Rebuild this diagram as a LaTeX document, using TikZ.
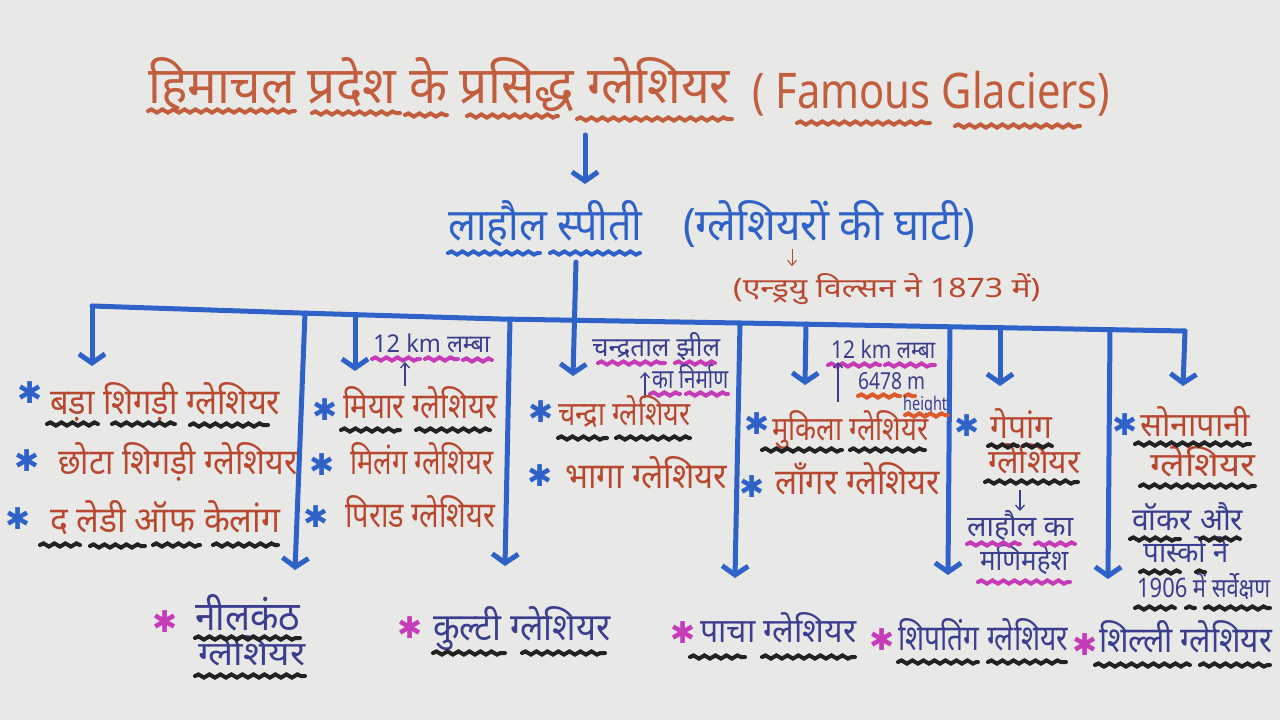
\documentclass[tikz,border=0pt]{standalone}
\usepackage{fontspec}
\usepackage{graphicx}
\usetikzlibrary{arrows.meta,decorations.pathmorphing}
\newfontfamily\dev[Script=Devanagari]{Noto Sans}
\newfontfamily\symf{DejaVu Sans}
\definecolor{paper}{HTML}{E8E8E6}
\definecolor{ttl}{HTML}{C25E3E}
\definecolor{myblue}{HTML}{2F62C8}
\definecolor{itemred}{HTML}{B8472F}
\definecolor{ink}{HTML}{3A3E8E}
\definecolor{mag}{HTML}{C63BB8}
\definecolor{ulblack}{HTML}{222222}
\definecolor{ulred}{HTML}{DC5A2C}
\newcommand\hw[3]{\resizebox{#1pt}{#2pt}{\dev\vphantom{शि}#3}}
\newcommand\wl[4]{\draw[ul,draw=#4] (#1,#3) -- (#2,#3);}
\newcommand\astr[4]{\node[astr,text=#4] (#1) at (#2,#3) {\symf ✱};}
\tikzset{
  bline/.style={draw=myblue, line width=5pt, line cap=round, line join=round},
  barrow/.style={bline, -{Straight Barb[length=9pt,width=26pt]}},
  tarrow/.style={draw=ink, line width=1.3pt, -{Straight Barb[length=5pt,width=9pt]}},
  ul/.style={decorate, decoration={snake, amplitude=1.6pt, segment length=11pt}, line width=4pt, line cap=round},
  txt/.style={anchor=base west, inner sep=0pt},
  astr/.style={inner sep=0pt, font=\fontsize{30}{30}\selectfont},
}
\begin{document}
\begin{tikzpicture}[x=1pt,y=-1pt]
\fill[paper] (0,0) rectangle (1280,720);
\useasboundingbox (0,0) rectangle (1280,720);

% ---- title
\node[txt,text=ttl] (t1) at (148,103) {\hw{582}{46}{हिमाचल प्रदेश के प्रसिद्ध ग्लेशियर}};
\node[txt,text=ttl] (t2) at (752,108) {\hw{358}{44}{( Famous Glaciers)}};
\wl{148}{295}{111}{ttl}\wl{312}{400}{113}{ttl}\wl{405}{447}{115}{ttl}
\wl{467}{558}{116}{ttl}\wl{577}{732}{119}{ttl}
\wl{797}{930}{123}{ttl}\wl{955}{1080}{126}{ttl}

% ---- lahaul spiti
\node[txt,text=myblue] (lh) at (448,240) {\hw{194}{40}{लाहौल स्पीती}};
\node[txt,text=myblue] (gh) at (683,240) {\hw{292}{40}{(ग्लेशियरों की घाटी)}};
\wl{448}{540}{253}{myblue}\wl{550}{640}{253}{myblue}
\node[txt,text=itemred] (aw) at (733,297) {\hw{307}{24}{(एन्ड्रयु विल्सन ने 1873 में)}};
\coordinate (gha) at (792,249);
\coordinate (ghb) at (792,266);
\draw[tarrow,draw=itemred,line width=1pt] (gha) -- (ghb);

% ---- arrows
\coordinate (ta) at (585,135);
\coordinate (tb) at (585,184);
\draw[barrow] (ta) -- (tb);

\coordinate (j0) at (92,306);
\coordinate (j1) at (305,313);
\coordinate (j2) at (355,315);
\coordinate (j3) at (510,319);
\coordinate (j4) at (575,320);
\coordinate (j5) at (740,323);
\coordinate (j6) at (806,324);
\coordinate (j7) at (950,327);
\coordinate (j8) at (1000,328);
\coordinate (j9) at (1110,330);
\coordinate (j10) at (1185,331);
\draw[bline] (j0) -- (300,313) -- (500,319) -- (j5) -- (j10);
\coordinate (lv) at (576,262);
\coordinate (e0) at (92,366);
\coordinate (e1) at (295,570);
\coordinate (e2) at (355,371);
\coordinate (e3) at (505,566);
\coordinate (e4) at (573,376);
\coordinate (e5) at (735,578);
\coordinate (e6) at (805,385);
\coordinate (e7) at (948,575);
\coordinate (e8) at (1000,386);
\coordinate (e9) at (1108,579);
\coordinate (e10) at (1183,386);
\draw[barrow] (lv) -- (e4);
\foreach \i in {0,1,2,3,5,6,7,8,9,10} {\draw[barrow] (j\i) -- (e\i);}

% ---- column 1
\astr{s1}{30}{393}{myblue}\astr{s2}{27}{461}{myblue}\astr{s3}{18}{519}{myblue}
\node[txt,text=itemred] (c1a) at (50,414) {\hw{230}{32}{बड़ा शिगड़ी ग्लेशियर}};
\node[txt,text=itemred] (c1b) at (58,474) {\hw{239}{32}{छोटा शिगड़ी ग्लेशियर}};
\node[txt,text=itemred] (c1c) at (50,532) {\hw{230}{32}{द लेडी ऑफ केलांग}};
\wl{47}{98}{424}{ulblack}\wl{112}{175}{424}{ulblack}\wl{190}{268}{425}{ulblack}
\wl{40}{80}{545}{ulblack}\wl{90}{145}{546}{ulblack}\wl{153}{200}{545}{ulblack}\wl{213}{278}{545}{ulblack}

% ---- column 2
\node[txt,text=ink] (k1) at (373,352) {\hw{117}{22}{12 km लम्बा}};
\wl{372}{420}{359}{mag}\wl{425}{458}{359}{mag}\wl{463}{492}{360}{mag}
\coordinate (k1a) at (405,386);
\coordinate (k1b) at (405,362);
\draw[tarrow] (k1a) -- (k1b);
\astr{s4}{325}{410}{myblue}\astr{s5}{322}{465}{myblue}\astr{s6}{316}{517}{myblue}
\node[txt,text=itemred] (c2a) at (343,418) {\hw{154}{32}{मियार ग्लेशियर}};
\node[txt,text=itemred] (c2b) at (350,474) {\hw{143}{32}{मिलंग ग्लेशियर}};
\node[txt,text=itemred] (c2c) at (345,527) {\hw{150}{32}{पिराड ग्लेशियर}};
\wl{341}{400}{430}{ulblack}\wl{416}{490}{430}{ulblack}

% ---- column 3
\node[txt,text=ink] (c3n1) at (592,356) {\hw{128}{24}{चन्द्रताल झील}};
\wl{598}{665}{363}{mag}\wl{675}{715}{363}{mag}
\node[txt,text=ink] (c3n2) at (652,388) {\hw{76}{24}{का निर्माण}};
\wl{650}{680}{394}{mag}\wl{686}{728}{394}{mag}
\coordinate (c3a) at (645,398);
\coordinate (c3b) at (645,372);
\draw[tarrow] (c3a) -- (c3b);
\astr{s7}{541}{412}{myblue}\astr{s8}{540}{476}{myblue}
\node[txt,text=itemred] (c3a1) at (558,425) {\hw{132}{30}{चन्द्रा ग्लेशियर}};
\node[txt,text=itemred] (c3b1) at (565,488) {\hw{162}{32}{भागा ग्लेशियर}};
\wl{558}{607}{438}{ulblack}\wl{616}{690}{438}{ulblack}

% ---- column 4
\node[txt,text=ink] (k2) at (831,358) {\hw{104}{22}{12 km लम्बा}};
\wl{828}{880}{365}{mag}\wl{885}{935}{365}{mag}
\coordinate (k2a) at (838,402);
\coordinate (k2b) at (838,362);
\draw[tarrow] (k2a) -- (k2b);
\node[txt,text=ink] (ht1) at (858,389) {\hw{67}{21}{6478 m}};
\wl{858}{900}{396}{ulred}\wl{905}{915}{396}{ulred}
\node[txt,text=ink] (ht2) at (903,410) {\hw{44}{17}{height}};
\wl{905}{948}{415}{ulred}
\astr{s9}{757}{424}{myblue}\astr{s10}{752}{487}{myblue}
\node[txt,text=itemred] (c4a) at (772,440) {\hw{156}{30}{मुकिला ग्लेशियर}};
\node[txt,text=itemred] (c4b) at (775,494) {\hw{165}{32}{लॉंगर ग्लेशियर}};
\wl{762}{842}{450}{ulblack}\wl{850}{925}{450}{ulblack}

% ---- column 5
\astr{s11}{967}{426}{myblue}
\node[txt,text=itemred] (c5a) at (990,438) {\hw{62}{30}{गेपांग}};
\node[txt,text=itemred] (c5b) at (988,473) {\hw{92}{30}{ग्लेशियर}};
\wl{988}{1018}{446}{ulblack}\wl{1023}{1052}{446}{ulblack}
\wl{985}{1078}{482}{ulblack}
\coordinate (c5x) at (1020,490);
\coordinate (c5y) at (1020,511);
\draw[tarrow] (c5x) -- (c5y);
\node[txt,text=ink] (c5c) at (967,536) {\hw{106}{26}{लाहौल का}};
\node[txt,text=ink] (c5d) at (980,570) {\hw{88}{26}{मणिमहेश}};
\wl{967}{1020}{544}{mag}\wl{1035}{1075}{544}{mag}
\wl{978}{1070}{582}{mag}

% ---- column 6
\astr{s12}{1125}{425}{myblue}
\node[txt,text=itemred] (c6a) at (1140,436) {\hw{110}{30}{सोनापानी}};
\node[txt,text=itemred] (c6b) at (1150,476) {\hw{105}{30}{ग्लेशियर}};
\wl{1135}{1250}{444}{ulblack}\wl{1140}{1255}{486}{ulblack}
\node[txt,text=ink] (c6c) at (1132,530) {\hw{111}{28}{वॉकर और}};
\node[txt,text=ink] (c6d) at (1143,562) {\hw{85}{26}{पास्को ने}};
\node[txt,text=ink] (c6e) at (1137,597) {\hw{133}{24}{1906 में सर्वेक्षण}};
\wl{1130}{1180}{539}{ulblack}\wl{1200}{1240}{539}{ulblack}
\wl{1140}{1180}{572}{ulblack}\wl{1196}{1205}{572}{ulblack}
\wl{1135}{1175}{608}{ulblack}\wl{1186}{1195}{608}{ulblack}\wl{1205}{1270}{608}{ulblack}

% ---- bottom row
\astr{m1}{165}{622}{mag}
\node[txt,text=ink] (b1a) at (195,630) {\hw{105}{36}{नीलकंठ}};
\node[txt,text=ink] (b1b) at (198,665) {\hw{107}{30}{ग्लेशियर}};
\wl{195}{300}{638}{ulblack}\wl{195}{305}{676}{ulblack}
\astr{m2}{410}{628}{mag}
\node[txt,text=ink] (b2) at (433,640) {\hw{177}{34}{कुल्टी ग्लेशियर}};
\wl{433}{505}{653}{ulblack}\wl{522}{605}{653}{ulblack}
\astr{m3}{683}{633}{mag}
\node[txt,text=ink] (b3) at (700,642) {\hw{156}{30}{पाचा ग्लेशियर}};
\wl{690}{745}{657}{ulblack}\wl{762}{855}{657}{ulblack}
\astr{m4}{882}{640}{mag}
\node[txt,text=ink] (b4) at (898,650) {\hw{170}{32}{शिपतिंग ग्लेशियर}};
\wl{898}{978}{662}{ulblack}\wl{988}{1066}{662}{ulblack}
\astr{m5}{1085}{645}{mag}
\node[txt,text=ink] (b5) at (1099,652) {\hw{173}{32}{शिल्ली ग्लेशियर}};
\wl{1095}{1190}{665}{ulblack}\wl{1200}{1270}{665}{ulblack}
\end{tikzpicture}
\end{document}
